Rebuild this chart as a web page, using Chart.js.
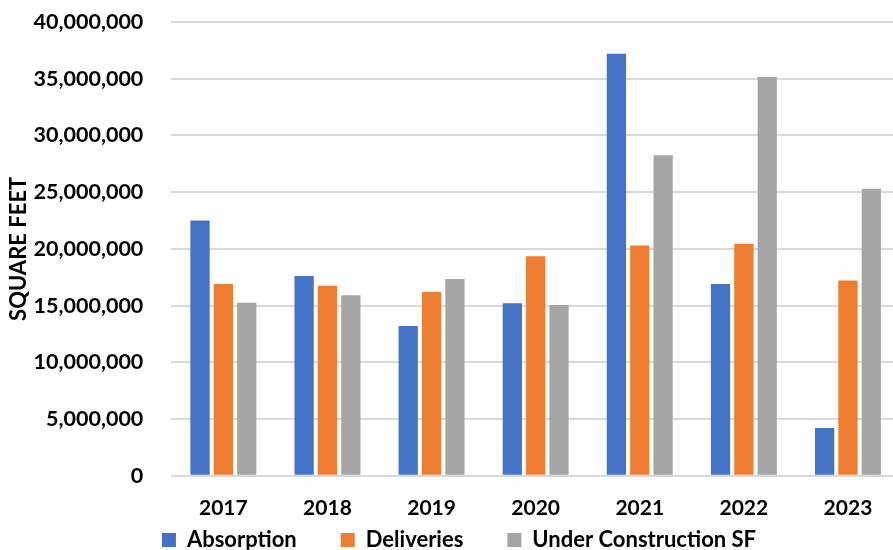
<!DOCTYPE html>
<html>
<head>
<meta charset="utf-8">
<script src="https://cdn.jsdelivr.net/npm/chart.js@4"></script>
<style>
    html, body { margin: 0; padding: 0; background: #fff; overflow: hidden; }
    .frame { position: relative; width: 916px; height: 561px; }
</style>
</head>
<body>
<div class="frame"><canvas id="chart"></canvas></div>
<script>
    const years = ["2017", "2018", "2019", "2020", "2021", "2022", "2023"];
    const absorption = [22500000, 17600000, 13200000, 15200000, 37200000, 16900000, 4200000];
    const deliveries = [16900000, 16750000, 16200000, 19350000, 20300000, 20450000, 17200000];
    const underConstruction = [15250000, 15900000, 17350000, 15050000, 28250000, 35150000, 25300000];
    const yTicks = [0, 5000000, 10000000, 15000000, 20000000, 25000000, 30000000, 35000000, 40000000];

    const seriesNames = ["Absorption", "Deliveries", "Under Construction SF"];
    const colors = ["#4472c4", "#ed7d31", "#a5a5a5"];
    const font = "Lato";

    function buildChart() {
        const datasets = [absorption, deliveries, underConstruction].map((values, index) => ({
            label: seriesNames[index],
            data: values,
            backgroundColor: colors[index],
            categoryPercentage: 0.673,
            barPercentage: 0.825
        }));

        new Chart(document.getElementById("chart"), {
            type: "bar",
            data: { labels: years, datasets },
            options: {
                responsive: true,
                maintainAspectRatio: false,
                animation: false,
                layout: { padding: { top: 22, right: 16, left: 18, bottom: 0 } },
                plugins: {
                    tooltip: { enabled: false },
                    legend: {
                        position: "bottom",
                        // empty title with negative padding pulls the row up, so the wide item gap doesn't add height
                        title: { display: true, text: "", padding: { top: -50.7, bottom: 0 }, font: { size: 10, lineHeight: 1 } },
                        labels: {
                            color: "#000",
                            font: { family: font, size: 22, weight: "bold" },
                            boxWidth: 14,
                            boxHeight: 14,
                            padding: 44
                        }
                    }
                },
                scales: {
                    x: {
                        grid: { display: false, drawTicks: false },
                        border: { display: false },
                        afterFit: axis => { axis.height = 50; },
                        ticks: {
                            color: "#000",
                            padding: 20,
                            font: { family: font, size: 21, weight: "bold" }
                        }
                    },
                    y: {
                        min: 0,
                        max: 40000000,
                        afterBuildTicks: axis => { axis.ticks = yTicks.map(value => ({ value })); },
                        grid: { color: "#d9d9d9", lineWidth: 2, drawTicks: true, tickLength: 28, tickColor: "rgba(0,0,0,0)" },
                        border: { display: false },
                        title: {
                            display: true,
                            text: "SQUARE FEET",
                            color: "#000",
                            padding: { top: -10, bottom: 3.5 },
                            font: { family: font, size: 22, weight: "bold", lineHeight: 1 }
                        },
                        ticks: {
                            color: "#000",
                            padding: 0,
                            font: { family: font, size: 21.5, weight: "bold" },
                            callback: value => value.toLocaleString("en-US")
                        }
                    }
                }
            }
        });
    }

    Promise.all([
        document.fonts.load(`bold 21px ${font}`),
        document.fonts.load(`bold 22px ${font}`)
    ]).then(buildChart, buildChart);
</script>
</body>
</html>
